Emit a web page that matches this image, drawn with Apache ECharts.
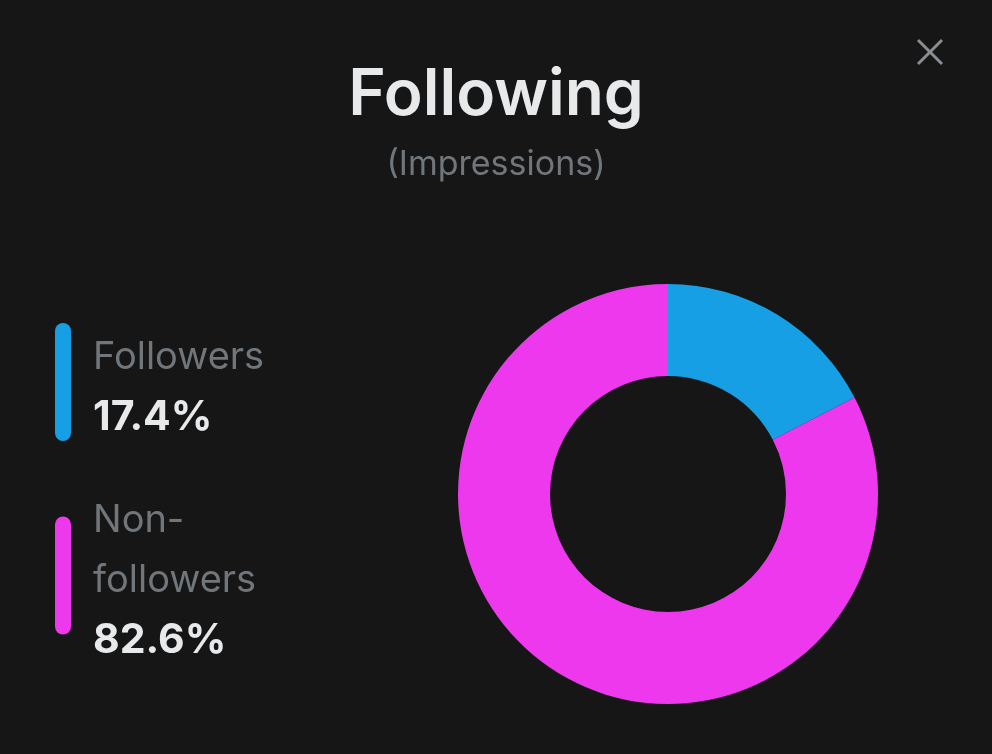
<!DOCTYPE html>
<html>
<head>
<meta charset="utf-8">
<script src="https://cdn.jsdelivr.net/npm/echarts@6/dist/echarts.min.js"></script>
<style>
html,body{margin:0;padding:0;background:#161616;}
#chart{width:992px;height:754px;}
</style>
</head>
<body>
<div id="chart"></div>
<script>
var titleText = 'Following';
var subtitleText = '(Impressions)';
var categories = ['Followers', 'Non-followers'];
var values = [17.4, 82.6];
var colors = ['#169FE4', '#EE38EE'];

var chart = echarts.init(document.getElementById('chart'), null, {renderer: 'canvas'});
var barIcon = 'path://M8,0 A8,8 0 0 1 16,8 L16,110 A8,8 0 0 1 0,110 L0,8 A8,8 0 0 1 8,0 Z';

var option = {
  backgroundColor: '#161616',
  animation: false,
  title: {
    text: titleText,
    subtext: subtitleText,
    left: 'center',
    top: 56,
    itemGap: 14,
    textStyle: {fontFamily: 'Inter', fontSize: 64, fontWeight: 600, color: '#E7E9EA', lineHeight: 70},
    subtextStyle: {fontFamily: 'Inter', fontSize: 34, fontWeight: 400, color: '#71767B', lineHeight: 40}
  },
  legend: {
    orient: 'vertical',
    left: 50,
    top: 318,
    itemWidth: 16,
    itemHeight: 118,
    itemGap: 61,
    icon: barIcon,
    selectedMode: false,
    data: categories,
    formatter: function (name) {
      var i = categories.indexOf(name);
      return '{n|' + name.replace('-', '-\n').split('\n').join('}\n{n|') + '}\n{v|' + values[i].toFixed(1) + '%}';
    },
    textStyle: {
      padding: [11, 0, 0, 17],
      rich: {
        n: {fontFamily: 'Inter', fontSize: 38, fontWeight: 400, color: '#71767B', lineHeight: 60},
        v: {fontFamily: 'Inter', fontSize: 41, fontWeight: 700, color: '#E7E9EA', lineHeight: 60}
      }
    }
  },
  series: [{
    type: 'pie',
    center: [668, 494],
    radius: [118, 210],
    startAngle: 90,
    clockwise: true,
    label: {show: false},
    labelLine: {show: false},
    emphasis: {disabled: true},
    itemStyle: {borderWidth: 0},
    data: categories.map(function (c, i) {
      return {name: c, value: values[i], itemStyle: {color: colors[i]}};
    })
  }],
  graphic: [
    {type: 'line', shape: {x1: 918, y1: 40, x2: 942, y2: 64}, style: {stroke: '#8A8D91', lineWidth: 3}},
    {type: 'line', shape: {x1: 942, y1: 40, x2: 918, y2: 64}, style: {stroke: '#8A8D91', lineWidth: 3}}
  ]
};
chart.setOption(option);
</script>
</body>
</html>
